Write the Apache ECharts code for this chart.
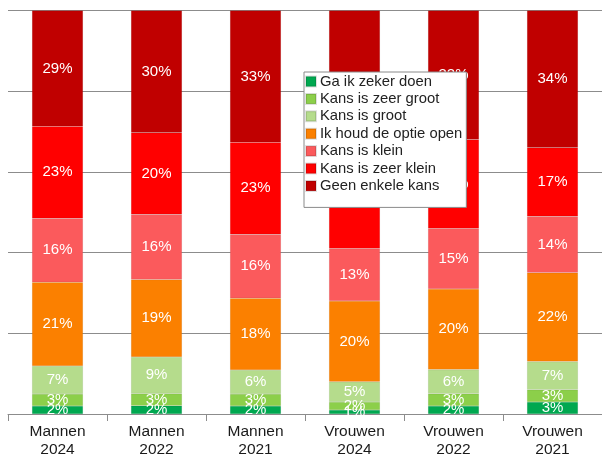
<!DOCTYPE html>
<html>
<head>
<meta charset="utf-8">
<script src="https://cdn.jsdelivr.net/npm/echarts@6/dist/echarts.min.js"></script>
<style>
  html, body { margin: 0; padding: 0; background: #ffffff; }
  #chart { width: 602px; height: 459px; }
</style>
</head>
<body>
<div id="chart"></div>
<script>
const categories = ["Mannen\n2024", "Mannen\n2022", "Mannen\n2021", "Vrouwen\n2024", "Vrouwen\n2022", "Vrouwen\n2021"];

// bottom to top
const zekerDoen = [2, 2, 2, 1, 2, 3];
const zeerGroot = [3, 3, 3, 2, 3, 3];
const groot = [7, 9, 6, 5, 6, 7];
const optieOpen = [21, 19, 18, 20, 20, 22];
const klein = [16, 16, 16, 13, 15, 14];
const zeerKlein = [23, 20, 23, 24, 22, 17];
const geenKans = [29, 30, 33, 35, 32, 34];

const seriesDefs = [
  { name: "Ga ik zeker doen", data: zekerDoen, color: "#00a850" },
  { name: "Kans is zeer groot", data: zeerGroot, color: "#8ccf4a" },
  { name: "Kans is groot", data: groot, color: "#b5dc8c" },
  { name: "Ik houd de optie open", data: optieOpen, color: "#fb8000" },
  { name: "Kans is klein", data: klein, color: "#fb5a5c" },
  { name: "Kans is zeer klein", data: zeerKlein, color: "#ff0000" },
  { name: "Geen enkele kans", data: geenKans, color: "#c00000" },
];

// totals per bar, used to scale every bar to 100%
const totals = categories.map((c, i) => seriesDefs.reduce((s, d) => s + d.data[i], 0));

const chart = echarts.init(document.getElementById("chart"));

chart.setOption({
  backgroundColor: "#ffffff",
  animation: false,
  grid: { left: 8, right: -4, top: 10.5, bottom: 42.5 },
  legend: {
    orient: "vertical",
    left: 304,
    top: 72,
    backgroundColor: "#ffffff",
    borderColor: "#8a8a8a",
    borderWidth: 1,
    padding: [2, 4, 14, 1],
    itemWidth: 10,
    itemHeight: 10,
    itemGap: 2.4,
    icon: "rect",
    textStyle: {
      fontFamily: "Liberation Sans",
      fontSize: 14.8,
      lineHeight: 15,
      color: "#222",
      padding: [0, 0, 0, -1],
    },
    data: seriesDefs.map((d) => d.name),
  },
  xAxis: {
    type: "category",
    data: categories,
    axisLine: { lineStyle: { color: "#8c8c8c", width: 1 } },
    axisTick: { show: true, length: 7, lineStyle: { color: "#8c8c8c" } },
    axisLabel: {
      fontFamily: "Liberation Sans",
      fontSize: 15.5,
      color: "#1a1a1a",
      lineHeight: 18,
      margin: 9,
    },
  },
  yAxis: {
    type: "value",
    min: 0,
    max: 100,
    interval: 20,
    axisLabel: { show: false },
    axisLine: { show: false },
    axisTick: { show: false },
    splitLine: { lineStyle: { color: "#8c8c8c", width: 1 } },
  },
  series: seriesDefs.map((d) => ({
    name: d.name,
    type: "bar",
    stack: "total",
    barWidth: 51,
    itemStyle: { color: d.color, borderColor: "rgba(0,0,0,0.12)", borderWidth: 0.5 },
    label: {
      show: true,
      position: "inside",
      fontFamily: "Liberation Sans",
      fontSize: 15,
      color: "#ffffff",
      formatter: (p) => d.data[p.dataIndex] + "%",
    },
    data: d.data.map((v, i) => (v / totals[i]) * 100),
  })),
});
</script>
</body>
</html>
